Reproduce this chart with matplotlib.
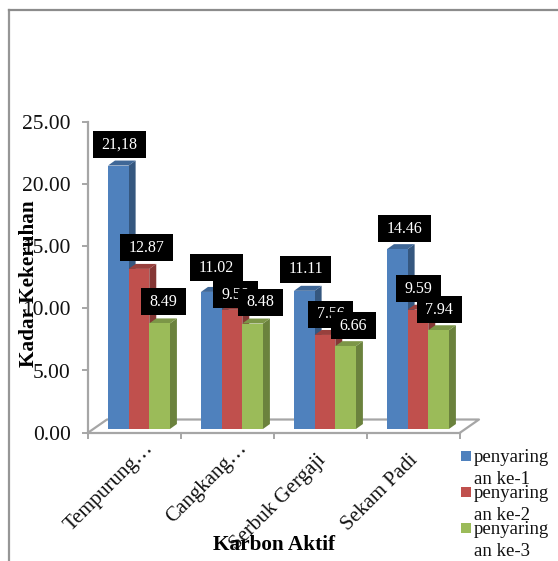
#!/usr/bin/env python3
import matplotlib
matplotlib.use("Agg")
import matplotlib.pyplot as plt
from matplotlib.lines import Line2D
from matplotlib.patches import Polygon, Rectangle
from matplotlib.path import Path

categories = ["Tempurung…", "Cangkang…", "Serbuk Gergaji", "Sekam Padi"]
series_names = ["penyaring\nan ke-1", "penyaring\nan ke-2", "penyaring\nan ke-3"]
penyaringan_1 = [21.18, 11.02, 11.11, 14.46]
penyaringan_2 = [12.87, 9.58, 7.56, 9.59]
penyaringan_3 = [8.49, 8.48, 6.66, 7.94]
label_text_1 = ["21,18", "11.02", "11.11", "14.46"]
label_text_2 = ["12.87", "9.58", "7.56", "9.59"]
label_text_3 = ["8.49", "8.48", "6.66", "7.94"]
y_ticks = [0, 5, 10, 15, 20, 25]

WIDTH, HEIGHT = 558, 561
GREY = "#a6a6a6"

# fake 3D: front face colour, side colour, top colour
COLORS = [
    ("#4f81bd", "#35577f", "#3f6797"),
    ("#c0504d", "#853735", "#98403d"),
    ("#9bbb59", "#6b823d", "#7c9647"),
]

# nudges of the data labels from the bar top, pixels (they were placed by hand)
NUDGES = [
    [(1.2, 21), (5.2, 24), (1.2, 21.3), (7.2, 20.6)],
    [(7.5, 21), (3.5, 15.3), (5.5, 20.5), (0.5, 21.2)],
    [(3.8, 21.4), (7.8, 21.5), (7.8, 20.6), (0.8, 20.7)],
]


def label_box(x0, y0, width, height, mutation_size):
    # keeps the black label boxes wide but only 27 px tall
    pad_x = 8.5
    mid = y0 + height / 2
    return Path(
        [(x0 - pad_x, mid - 13.5), (x0 + width + pad_x, mid - 13.5),
         (x0 + width + pad_x, mid + 13.5), (x0 - pad_x, mid + 13.5), (x0 - pad_x, mid - 13.5)],
        closed=True,
    )


def main():
    plt.rcParams["font.family"] = ["Liberation Serif", "DejaVu Serif"]
    fig = plt.figure(figsize=(WIDTH / 100, HEIGHT / 100), dpi=100)

    # outer chart frame, open at right and bottom
    fig.add_artist(Line2D([9 / WIDTH, 9 / WIDTH], [0, 1 - 10 / HEIGHT], color="#969696", lw=1.6))
    fig.add_artist(Line2D([9 / WIDTH, 1], [1 - 10 / HEIGHT] * 2, color="#8c8c8c", lw=1.6))

    ax = fig.add_axes([88 / WIDTH, 1 - 432.7 / HEIGHT, 372 / WIDTH, 311 / HEIGHT])
    ax.set_xlim(-0.5, 3.5)
    ax.set_ylim(0, 25)
    ax.patch.set_visible(False)

    floor_dx, floor_dy = 0.204, 1.06
    ax.add_line(Line2D(
        [-0.5, -0.5 + floor_dx, 3.5 + floor_dx, 3.5],
        [0, floor_dy, floor_dy, 0],
        color=GREY, lw=1.6, clip_on=False, zorder=1,
    ))

    bar_w = 0.222
    depth_x, depth_y = 0.075, 0.4
    base = 0.297
    all_values = [penyaringan_1, penyaringan_2, penyaringan_3]
    all_labels = [label_text_1, label_text_2, label_text_3]

    for s, values in enumerate(all_values):
        front, side, top = COLORS[s]
        xs = [i + 0.048 + (s - 1) * bar_w for i in range(len(categories))]
        ax.bar(xs, values, width=bar_w, bottom=base, color=front,
               edgecolor="none", zorder=3 + s * 0.1, clip_on=False)
        for x, v in zip(xs, values):
            left, right = x - bar_w / 2, x + bar_w / 2
            height = base + v
            ax.add_patch(Polygon(
                [(right, base), (right + depth_x, base + depth_y),
                 (right + depth_x, height + depth_y), (right, height)],
                facecolor=side, edgecolor="none", zorder=2.9 + s * 0.1, clip_on=False,
            ))
            ax.add_patch(Polygon(
                [(left, height), (left + depth_x, height + depth_y),
                 (right + depth_x, height + depth_y), (right, height)],
                facecolor=top, edgecolor="none", zorder=2.9 + s * 0.1, clip_on=False,
            ))

    for s, values in enumerate(all_values):
        xs = [i + 0.048 + (s - 1) * bar_w for i in range(len(categories))]
        for i, v in enumerate(values):
            ax.annotate(
                all_labels[s][i], (xs[i], base + v), xytext=NUDGES[s][i],
                textcoords="offset pixels", ha="center", va="center",
                color="white", fontsize=11.5, zorder=10 + s, annotation_clip=False,
                bbox=dict(boxstyle=label_box, facecolor="black", edgecolor="none"),
            )

    ax.spines[["top", "right"]].set_visible(False)
    ax.spines[["left", "bottom"]].set_color(GREY)
    ax.spines[["left", "bottom"]].set_linewidth(1.6)
    ax.set_yticks(y_ticks, [f"{t:.2f}" for t in y_ticks], fontsize=15.5)
    ax.set_xticks([i - 0.5 for i in range(len(categories) + 1)], minor=False)
    ax.set_xticklabels([])
    ax.tick_params(axis="both", length=4.5, width=1.4, color=GREY, pad=8, labelcolor="#111111")

    # rotated category labels sit between the tick marks
    label_ends = [(0.105, -0.02), (0.105, -0.02), (-0.05, -0.058), (-0.05, -0.058)]
    for i, name in enumerate(categories):
        ax.text(i + label_ends[i][0], label_ends[i][1], name, rotation=45, ha="right", va="top",
                rotation_mode="anchor", fontsize=15, color="#111111",
                transform=ax.get_xaxis_transform(), zorder=5)

    fig.text(29 / WIDTH, 1 - 284 / HEIGHT, "Kadar Kekeruhan", rotation=90, ha="center", va="center",
             fontsize=15.3, fontweight="bold", zorder=20)
    fig.text(274 / WIDTH, 1 - 545 / HEIGHT, "Karbon Aktif", ha="center", va="center",
             fontsize=15.3, fontweight="bold", zorder=20)

    # legend by hand: the swatch sits on the first line of each wrapped name
    for s, name in enumerate(series_names):
        top_px = 451 + 36 * s
        fig.add_artist(Rectangle((461 / WIDTH, 1 - (top_px + 10) / HEIGHT), 10 / WIDTH, 10 / HEIGHT,
                                 transform=fig.transFigure, facecolor=COLORS[s][0], edgecolor="none"))
        fig.text(474 / WIDTH, 1 - (top_px - 2) / HEIGHT, name, ha="left", va="top",
                 fontsize=13.5, linespacing=1.42, color="#111111")

    fig.savefig("out.png", dpi=100)


if __name__ == "__main__":
    main()
